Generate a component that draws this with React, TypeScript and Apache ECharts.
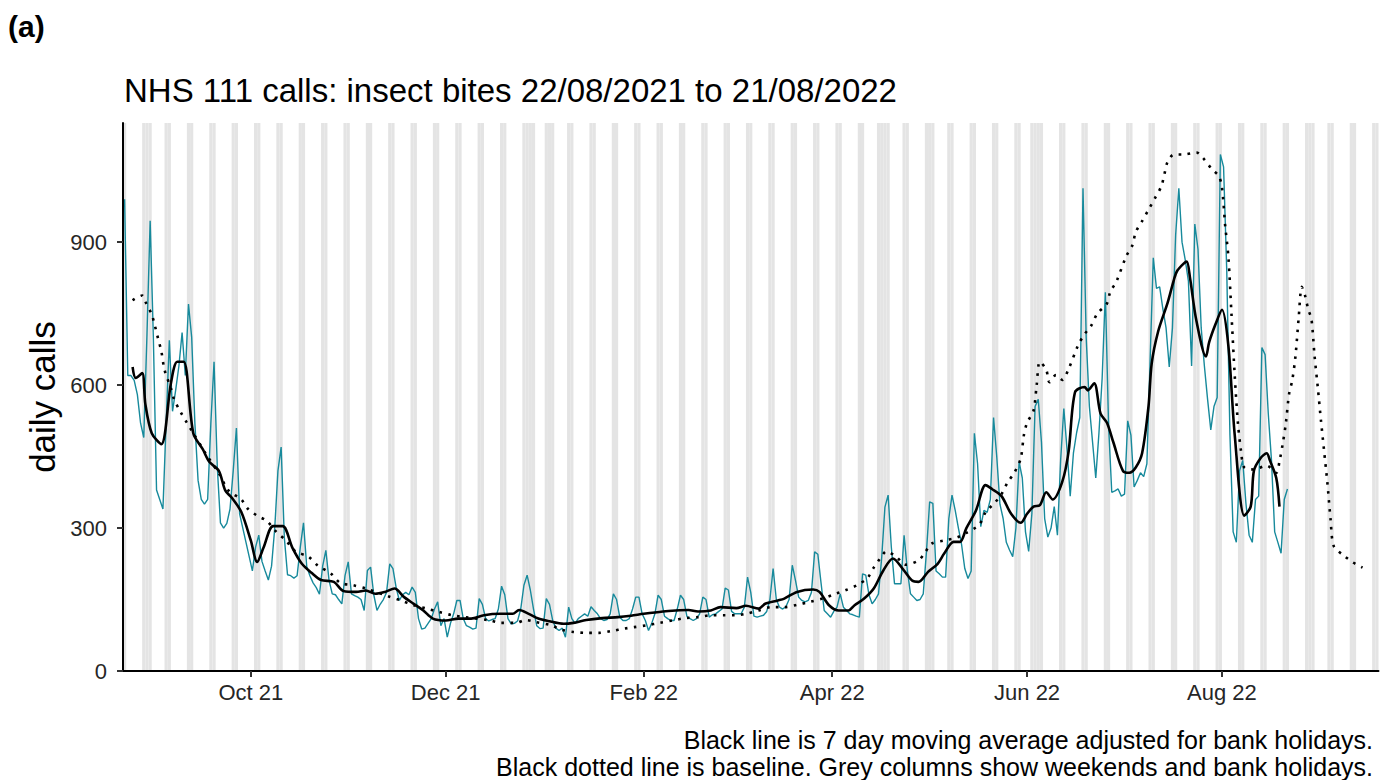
import React, { useEffect, useRef } from 'react';
import * as echarts from 'echarts';

const START_DATE = '2021-08-22';
const AXIS_END_DATE = '2022-09-19';
const xTickDates = ['2021-10-01', '2021-12-01', '2022-02-01', '2022-04-01', '2022-06-01', '2022-08-01'];
const xTickLabels = ['Oct 21', 'Dec 21', 'Feb 22', 'Apr 22', 'Jun 22', 'Aug 22'];
const yTicks = [0, 300, 600, 900];
const Y_MAX = 1150;

const bankHolidays = [
  '2021-08-30', '2021-12-27', '2021-12-28', '2022-01-03', '2022-04-15',
  '2022-04-18', '2022-05-02', '2022-06-02', '2022-06-03', '2022-08-29',
];

// daily calls from 22/08/2021 (Sunday), one row per week Sun..Sat
const dailyCalls = [
  990, 620, 620, 610, 580, 520, 490,
  705, 945, 700, 380, 360, 340, 520,
  694, 545, 590, 640, 710, 620, 770,
  700, 520, 400, 360, 350, 360, 520,
  649, 430, 311, 300, 310, 340, 420,
  510, 330, 300, 270, 240, 210, 260,
  285, 230, 210, 191, 220, 300, 420,
  470, 280, 202, 200, 195, 200, 260,
  311, 220, 200, 185, 175, 161, 220,
  253, 190, 162, 160, 150, 141, 200,
  229, 162, 158, 155, 150, 127, 211,
  218, 160, 127, 140, 150, 165, 225,
  215, 175, 148, 160, 165, 160, 176,
  165, 110, 88, 90, 100, 110, 130,
  145, 95, 110, 71, 100, 120, 148,
  148, 110, 95, 92, 88, 90, 152,
  140, 110, 105, 108, 110, 130, 178,
  160, 110, 99, 100, 105, 130, 180,
  201, 170, 130, 95, 89, 90, 152,
  140, 106, 90, 85, 90, 71, 134,
  110, 100, 110, 115, 120, 115, 135,
  127, 120, 110, 106, 108, 120, 162,
  150, 113, 106, 106, 110, 130, 155,
  155, 120, 106, 85, 100, 120, 159,
  150, 115, 110, 106, 106, 130, 159,
  150, 115, 110, 106, 110, 120, 155,
  150, 113, 118, 120, 125, 130, 174,
  170, 125, 120, 120, 120, 134, 197,
  165, 115, 113, 115, 117, 125, 150,
  215, 150, 134, 130, 135, 150, 222,
  190, 155, 148, 145, 148, 165, 250,
  245, 185, 127, 120, 113, 125, 134,
  162, 134, 127, 120, 118, 115, 113,
  204, 201, 160, 141, 150, 162, 239,
  344, 369, 260, 183, 183, 183, 285,
  212, 162, 155, 148, 150, 162, 250,
  355, 352, 210, 204, 197, 197, 320,
  369, 337, 300, 265, 215, 194, 210,
  499, 435, 303, 337, 333, 360, 532,
  450, 350, 320, 270, 254, 240, 300,
  439, 405, 292, 251, 330, 555, 570,
  480, 320, 281, 300, 345, 285, 442,
  551, 465, 367, 457, 500, 532, 1013,
  700, 555, 480, 405, 500, 615, 795,
  517, 375, 378, 382, 367, 371, 525,
  495, 386, 400, 416, 408, 435, 650,
  867, 803, 806, 760, 720, 638, 720,
  915, 1013, 900, 863, 818, 640, 938,
  885, 720, 640, 570, 506, 555, 574,
  1084, 1058, 840, 495, 292, 270, 420,
  442, 352, 285, 270, 360, 367, 679,
  664, 540, 442, 292, 270, 247, 360,
  382,
];

// [day index from 22/08/2021, calls]
const movingAverage: [number, number][] = [
  [3, 638], [4, 615], [6, 625], [7, 560], [9, 499], [12, 476], [15, 604], [17, 649], [19, 649],
  [22, 499], [25, 465], [27, 439], [30, 420], [32, 379], [34, 364], [37, 334], [40, 274], [42, 229],
  [44, 259], [47, 304], [50, 304], [53, 259], [56, 225], [59, 206], [62, 191], [66, 187], [69, 168],
  [73, 166], [76, 169], [79, 162], [82, 166], [85, 173], [88, 155], [91, 141], [94, 127], [97, 110],
  [101, 106], [105, 110], [109, 110], [113, 117], [118, 120], [122, 120], [124, 128], [127, 120],
  [130, 110], [133, 105], [138, 99], [141, 101], [145, 107], [150, 111], [155, 113], [159, 116],
  [163, 120], [169, 125], [173, 127], [177, 128], [180, 125], [184, 127], [187, 134], [192, 132],
  [195, 137], [199, 131], [201, 141], [205, 148], [207, 152], [211, 166], [216, 171], [218, 166],
  [221, 138], [224, 127], [227, 127], [229, 138], [232, 152], [235, 173], [238, 211], [241, 236],
  [244, 215], [247, 190], [249, 187], [252, 208], [255, 225], [257, 246], [260, 271], [262, 271],
  [264, 300], [267, 337], [270, 390], [272, 382], [275, 367], [278, 330], [281, 311], [283, 330],
  [285, 345], [287, 348], [289, 375], [291, 360], [294, 397], [296, 461], [298, 585], [301, 596],
  [302, 589], [304, 604], [306, 540], [308, 521], [310, 480], [313, 420], [315, 416], [317, 427],
  [319, 457], [321, 555], [322, 645], [324, 712], [327, 773], [329, 822], [330, 840], [332, 855],
  [333, 859], [334, 825], [336, 735], [339, 660], [340, 690], [342, 728], [344, 758], [346, 683],
  [348, 495], [351, 326], [353, 345], [354, 420], [356, 446], [358, 457], [359, 442], [361, 405],
  [362, 345],
];

// [day index from 22/08/2021, baseline calls]
const baseline: [number, number][] = [
  [3, 778], [6, 788], [7, 775], [9, 748], [10, 724], [11, 697], [12, 671], [13, 632], [15, 593],
  [16, 570], [18, 544], [20, 521], [22, 499], [26, 455], [30, 415], [33, 379], [37, 360], [39, 341],
  [42, 326], [45, 315], [48, 292], [51, 274], [54, 251], [58, 240], [61, 221], [65, 205], [68, 185],
  [72, 180], [76, 173], [83, 157], [87, 148], [91, 138], [95, 131], [99, 124], [103, 117], [107, 113],
  [115, 106], [118, 101], [123, 101], [126, 107], [129, 103], [134, 96], [137, 87], [141, 82],
  [145, 80], [149, 80], [153, 84], [157, 89], [160, 92], [164, 96], [168, 101], [172, 106], [176, 111],
  [180, 113], [184, 117], [188, 117], [192, 117], [195, 120], [199, 127], [203, 134], [207, 134],
  [211, 139], [215, 145], [219, 152], [223, 162], [226, 169], [230, 181], [233, 195], [235, 217],
  [237, 236], [239, 251], [242, 240], [245, 223], [249, 232], [251, 248], [253, 267], [257, 274],
  [261, 280], [264, 290], [268, 307], [270, 333], [273, 354], [275, 371], [277, 397], [279, 416],
  [281, 446], [282, 495], [283, 521], [285, 546], [286, 600], [287, 649], [289, 632], [290, 606],
  [292, 621], [294, 611], [296, 634], [299, 684], [301, 707], [303, 724], [305, 750], [308, 771],
  [309, 795], [311, 818], [314, 870], [316, 894], [317, 921], [319, 944], [321, 968], [323, 992],
  [325, 1017], [326, 1043], [327, 1069], [329, 1084], [332, 1084], [336, 1088], [338, 1077],
  [341, 1052], [343, 1039], [344, 1015], [345, 935], [346, 870], [347, 746], [348, 620], [349, 520],
  [350, 460], [351, 427], [354, 423], [358, 431], [361, 416], [362, 440], [363, 476], [364, 520],
  [365, 581], [366, 610], [367, 660], [368, 740], [369, 806], [370, 788], [371, 759], [372, 739],
  [373, 660], [374, 595], [375, 525], [376, 460], [377, 395], [378, 318], [379, 262], [382, 243],
  [385, 228], [388, 217],
];

const FONT = '"Liberation Sans", Arial, Helvetica, sans-serif';

function dayIndex(s: string): number {
  const [y, m, d] = s.split('-').map(Number);
  const [y0, m0, d0] = START_DATE.split('-').map(Number);
  return Math.round((Date.UTC(y, m - 1, d) - Date.UTC(y0, m0 - 1, d0)) / 86400000);
}

export default function App() {
  const ref = useRef<HTMLDivElement>(null);

  useEffect(() => {
    if (!ref.current) return;
    const chart = echarts.init(ref.current, null, { renderer: 'svg' });
    const [y0, m0, d0] = START_DATE.split('-').map(Number);
    const startWeekday = new Date(Date.UTC(y0, m0 - 1, d0)).getUTCDay();
    const xMax = dayIndex(AXIS_END_DATE);
    const holidays = new Set(bankHolidays.map(dayIndex));
    const greyDays: number[][] = [];
    for (let d = 0; d < xMax; d++) {
      const wd = (d + startWeekday) % 7;
      if (wd === 0 || wd === 6 || holidays.has(d)) greyDays.push([d, d + 1, 0]);
    }
    const tickDays = xTickDates.map(dayIndex);
    const textColor = '#262626';

    const option: any = {
      animation: false,
      grid: { left: 123, right: 2.5, top: 123, bottom: 109, containLabel: false },
      xAxis: {
        type: 'value',
        min: 0,
        max: xMax,
        z: 20,
        axisLine: { show: true, onZero: false, lineStyle: { color: '#000', width: 2 } },
        axisTick: { show: true, customValues: tickDays, length: 6, lineStyle: { color: '#333', width: 2 } },
        axisLabel: {
          show: true,
          customValues: tickDays,
          formatter: (v: number) => {
            const i = tickDays.indexOf(Math.round(v));
            return i >= 0 ? xTickLabels[i] : '';
          },
          fontSize: 22,
          fontFamily: FONT,
          color: textColor,
          margin: 10,
        },
        splitLine: { show: false },
      },
      yAxis: {
        type: 'value',
        min: 0,
        max: Y_MAX,
        z: 20,
        axisLine: { show: true, onZero: false, lineStyle: { color: '#000', width: 2 } },
        axisTick: { show: true, customValues: yTicks, length: 6, lineStyle: { color: '#333', width: 2 } },
        axisLabel: {
          show: true,
          customValues: yTicks,
          fontSize: 22,
          fontFamily: FONT,
          color: textColor,
          margin: 16,
        },
        splitLine: { show: false },
      },
      series: [
        {
          type: 'custom',
          name: 'weekends',
          silent: true,
          clip: true,
          z: 1,
          encode: { x: [0, 1], y: 2 },
          data: greyDays,
          renderItem: (params: any, api: any) => {
            const s = api.coord([api.value(0), 0]);
            const e = api.coord([api.value(1), 0]);
            const cs = params.coordSys;
            return {
              type: 'rect',
              shape: { x: s[0], y: cs.y, width: e[0] - s[0], height: cs.height - 1 },
              style: { fill: '#e4e4e4' },
            };
          },
        },
        {
          type: 'line',
          name: 'daily calls',
          silent: true,
          z: 2,
          symbol: 'none',
          data: dailyCalls.map((v, i) => [i + 0.5, v]),
          lineStyle: { color: '#178a9c', width: 1.4 },
        },
        {
          type: 'line',
          name: '7 day moving average',
          silent: true,
          z: 3,
          symbol: 'none',
          smooth: 0.3,
          data: movingAverage,
          lineStyle: { color: '#000', width: 2.6 },
        },
        {
          type: 'line',
          name: 'baseline',
          silent: true,
          z: 4,
          symbol: 'none',
          smooth: 0.3,
          data: baseline,
          lineStyle: { color: '#000', width: 2.6, type: [2.6, 6.4], cap: 'butt' },
        },
      ],
      graphic: [
        {
          type: 'text', x: 8, y: 26, z: 10,
          style: { text: '(a)', fontSize: 30, fontWeight: 'bold', fontFamily: FONT, fill: '#000', align: 'left', verticalAlign: 'middle' },
        },
        {
          type: 'text', x: 124, y: 90, z: 10,
          style: { text: 'NHS 111 calls: insect bites 22/08/2021 to 21/08/2022', fontSize: 33, fontFamily: FONT, fill: '#000', align: 'left', verticalAlign: 'middle' },
        },
        {
          type: 'text', x: 42, y: 397, rotation: Math.PI / 2, z: 10,
          style: { text: 'daily calls', fontSize: 35, fontFamily: FONT, fill: '#000', align: 'center', verticalAlign: 'middle' },
        },
        {
          type: 'text', x: 1373, y: 740, z: 10,
          style: { text: 'Black line is 7 day moving average adjusted for bank holidays.', fontSize: 25, fontFamily: FONT, fill: '#000', align: 'right', verticalAlign: 'middle' },
        },
        {
          type: 'text', x: 1373, y: 767, z: 10,
          style: { text: 'Black dotted line is baseline. Grey columns show weekends and bank holidays.', fontSize: 25, fontFamily: FONT, fill: '#000', align: 'right', verticalAlign: 'middle' },
        },
      ],
    };

    chart.setOption(option);
    return () => chart.dispose();
  }, []);

  return (
    <div
      ref={ref}
      style={{ position: 'fixed', left: 0, top: 0, width: 1381, height: 780, background: '#fff' }}
    />
  );
}
